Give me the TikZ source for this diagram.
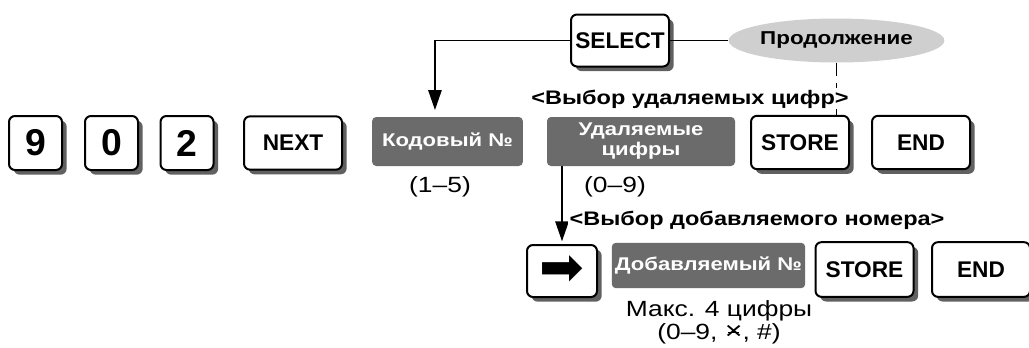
\documentclass[tikz,border=0pt]{standalone}
\usepackage{fontspec}
\setmainfont{Liberation Sans}
\newfontfamily\widefont{Liberation Sans}[FakeStretch=1.2]
\newfontfamily\symfont{DejaVu Sans}
\usetikzlibrary{shapes.geometric, arrows.meta, shadows}
\tikzset{
    key_white/.style={
        rectangle, rounded corners=4.5pt, draw=black, line width=1.5pt, fill=white,
        minimum width=73.5pt, minimum height=40pt, inner sep=0pt,
        font=\bfseries\fontsize{17}{18}\selectfont,
        drop shadow={shadow xshift=3.5pt, shadow yshift=-3.5pt, fill=black!62, opacity=1}
    },
    key_digit/.style={
        key_white, minimum width=39.75pt, minimum height=40.5pt,
        font=\bfseries\fontsize{28}{30}\selectfont
    },
    box_gray/.style={
        rectangle, rounded corners=3pt, fill=black!58, text=white,
        minimum height=36.75pt, inner sep=0pt, align=center,
        font=\widefont\bfseries\fontsize{13.8}{15}\selectfont
    },
    ell_gray/.style={
        ellipse, fill=black!19, minimum width=125pt, minimum height=33pt, inner sep=0pt,
        font=\widefont\bfseries\fontsize{14}{15}\selectfont
    },
    sel_lbl/.style={
        font=\widefont\bfseries\fontsize{14.7}{16}\selectfont, fill=white, inner sep=1pt
    },
    range_lbl/.style={
        font=\widefont\fontsize{16.5}{16.5}\selectfont, align=center, inner sep=0pt
    },
    flow_arrow/.style={
        -{Triangle[width=10pt,length=15pt]}, line width=1.3pt, draw=black
    },
    flow_line/.style={
        line width=1.3pt, draw=black
    }
}
\newcommand{\starkey}{\smash{\ooalign{{\fontsize{19}{19}\selectfont ×}\cr\hidewidth\rule[0.3em]{0.5em}{0.05em}\hidewidth\cr}}}

\begin{document}
\begin{tikzpicture}[x=0.75pt, y=-0.75pt]
    \useasboundingbox (0,0) rectangle (1029,347);

    % --- Row 1: feature number and code ---
    \node[key_digit] (k9) at (35.5, 143) {9};
    \node[key_digit] (k0) at (111.5, 143) {0};
    \node[key_digit] (k2) at (187, 143) {2};
    \node[key_white] (next) at (293, 143) {NEXT};
    \node[box_gray, minimum width=113pt] (code) at (447.5, 141.5) {Кодовый №};
    \node[range_lbl, anchor=base] (r15) at (440, 192) {(1–5)};
    \node[box_gray, minimum width=141pt] (del) at (641, 141.5) {Удаляемые\\цифры};
    \node[range_lbl, anchor=base] (r09) at (615, 192) {(0–9)};
    \node[key_white] (store1) at (800, 142.5) {STORE};
    \node[key_white] (end1) at (921, 142.5) {END};

    % --- Top: select / continue ---
    \node[key_white, minimum height=39pt] (select) at (620, 40.5) {SELECT};
    \node[ell_gray] (cont) at (836.5, 40.5) {Продолжение};

    % --- Row 2: added number ---
    \node[key_white, minimum width=52.5pt, minimum height=39pt, font=\symfont\fontsize{40}{40}\selectfont] (arrowkey) at (562, 271) {➡};
    \node[box_gray, minimum width=145pt, minimum height=34pt] (add) at (708.5, 265.5) {Добавляемый №};
    \node[range_lbl, anchor=north] (maxd) at (719, 300) {Макс. 4 цифры\\[1pt](0–9, \starkey, \#)};
    \node[key_white, minimum height=41pt] (store2) at (864.5, 269.5) {STORE};
    \node[key_white, minimum height=41pt] (end2) at (981, 269.5) {END};

    % --- Connectors ---
    \draw[flow_arrow, shorten >=5pt] (select.west) -| ([xshift=-9.4pt]code.north);
    \draw[flow_line] (select.east) -- (cont.west);
    \draw[flow_line, dash pattern=on 10pt off 5pt] (cont.south) -- (cont.south |- store1.north);
    \draw[flow_arrow, shorten >=2pt] (del.south -| arrowkey.north) -- (arrowkey.north);

    % --- Section labels ---
    \node[sel_lbl, anchor=base] (lab1) at (690, 104) {<Выбор удаляемых цифр>};
    \node[sel_lbl, anchor=base] (lab2) at (757, 225) {<Выбор добавляемого номера>};

\end{tikzpicture}
\end{document}
